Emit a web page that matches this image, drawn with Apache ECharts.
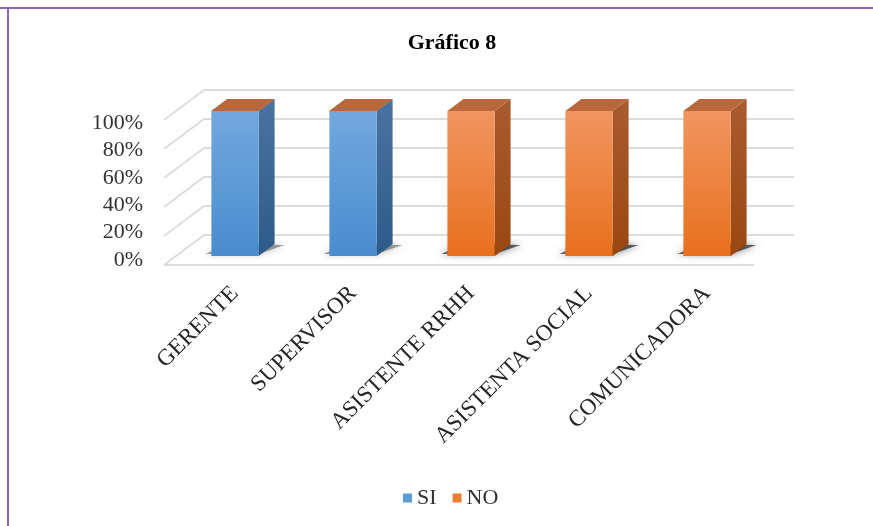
<!DOCTYPE html>
<html lang="es">
<head>
<meta charset="UTF-8">
<title>Gráfico 8</title>
<script src="https://cdn.jsdelivr.net/npm/echarts@6/dist/echarts.min.js"></script>
<style>
body{margin:0;background:#fff}
#main{width:873px;height:526px}
</style>
</head>
<body>
<div id="main"></div>
<script type="text/javascript">
var categories = ['GERENTE', 'SUPERVISOR', 'ASISTENTE RRHH', 'ASISTENTA SOCIAL', 'COMUNICADORA'];
var siValues = [100, 100, 0, 0, 0];
var noValues = [0, 0, 100, 100, 100];
var yTicks = [0, 20, 40, 60, 80, 100];
var yTickLabels = ['0%', '20%', '40%', '60%', '80%', '100%'];

// fake 3d: depth vector of the whole plot box, bars sit at 0.3 of it
var DX = 40, DY = -30;
var FRONT = -0.3, BACK = 0.7, BAR_DEPTH = 0.4;

var faces = {
    SI: {front: ['#71a8de', '#4a8ccf'], side: ['#4a74a0', '#2d5a89'], top: '#c45a1c'},
    NO: {front: ['#f19560', '#e8701d'], side: ['#a95b30', '#9a4811'], top: '#b9683e'}
};

function grad(c) {
    return new echarts.graphic.LinearGradient(0, 0, 0, 1, [
        {offset: 0, color: c[0]},
        {offset: 1, color: c[1]}
    ]);
}

function barItem(name) {
    var f = faces[name];
    return function (params, api) {
        var i = api.value(0), v = api.value(1), b = api.value(2);
        var p0 = api.coord([i, b]);
        var p1 = api.coord([i, b + v]);
        var w = api.size([1, 0])[0] * 0.4;
        var l = p0[0] - w / 2, r = p0[0] + w / 2;
        var yb = p0[1], yt = p1[1];
        var dx = DX * BAR_DEPTH, dy = DY * BAR_DEPTH;
        var kids = [];
        if (b === 0) {
            // soft contact shadow on the floor
            kids.push({
                type: 'polygon',
                shape: {points: [[l - 6, yb - 2], [r, yb - 2], [r + dx + 10, yb + dy + 1], [l + dx, yb + dy]]},
                style: {fill: 'rgba(0,0,0,0.35)', shadowBlur: 7, shadowColor: 'rgba(0,0,0,0.8)'}
            });
        }
        kids.push({
            type: 'polygon',
            shape: {points: [[r, yt], [r + dx, yt + dy], [r + dx, yb + dy], [r, yb]]},
            style: {fill: grad(f.side)}
        });
        kids.push({
            type: 'rect',
            shape: {x: l, y: yt, width: w, height: yb - yt},
            style: {fill: grad(f.front)}
        });
        kids.push({
            type: 'polygon',
            shape: {points: [[l, yt], [r, yt], [r + dx, yt + dy], [l + dx, yt + dy]]},
            style: {fill: f.top}
        });
        return {type: 'group', children: kids};
    };
}

function wallItem(params, api) {
    var cs = params.coordSys;
    var t = api.value(1);
    var y = api.coord([0, t])[1];
    var fx = cs.x + DX * FRONT, fy = y + DY * FRONT;
    var bx = cs.x + DX * BACK, by = y + DY * BACK;
    var st = {stroke: '#dcdcdc', lineWidth: 2};
    var kids = [
        {type: 'line', shape: {x1: fx, y1: fy, x2: bx, y2: by}, style: st},
        {type: 'line', shape: {x1: bx, y1: by, x2: bx + cs.width, y2: by}, style: st}
    ];
    if (t === 0) {
        kids.push({type: 'line', shape: {x1: fx, y1: fy, x2: fx + cs.width, y2: fy}, style: st});
    }
    return {type: 'group', children: kids};
}

var siData = [], noData = [];
for (var i = 0; i < categories.length; i++) {
    siData.push([i, siValues[i], 0]);
    noData.push([i, noValues[i], siValues[i]]);
}
var wallData = yTicks.map(function (t) { return [0, t]; });

var myChart = echarts.init(document.getElementById('main'));
myChart.setOption({
    backgroundColor: '#fff',
    animation: false,
    title: {
        text: 'Gráfico 8',
        left: 447,
        textAlign: 'center',
        top: 27,
        textStyle: {fontFamily: 'Liberation Serif', fontWeight: 'bold', fontSize: 22, color: '#000'}
    },
    legend: {
        left: 398,
        top: 482,
        icon: 'rect',
        itemWidth: 9,
        itemHeight: 9,
        itemGap: 16,
        data: ['SI', 'NO'],
        textStyle: {fontFamily: 'Liberation Serif', fontSize: 22, color: '#333'}
    },
    graphic: [
        {type: 'line', shape: {x1: 0, y1: 8, x2: 873, y2: 8}, style: {stroke: '#9065c4', lineWidth: 2}},
        {type: 'line', shape: {x1: 8, y1: 8, x2: 8, y2: 526}, style: {stroke: '#9065c4', lineWidth: 2}}
    ],
    grid: [
        {left: 176, width: 590, top: 111, height: 145},
        {left: 163, width: 10, top: 123, height: 137}
    ],
    xAxis: [
        {
            type: 'category',
            data: categories,
            axisLine: {show: false},
            axisTick: {show: false},
            axisLabel: {
                interval: 0,
                rotate: 45,
                margin: 34,
                fontFamily: 'Liberation Serif',
                fontSize: 23,
                color: '#262626'
            }
        },
        {type: 'value', gridIndex: 1, show: false}
    ],
    yAxis: [
        {type: 'value', min: 0, max: 100, show: false},
        {
            type: 'value',
            gridIndex: 1,
            min: 0,
            max: 100,
            interval: 20,
            axisLine: {show: false},
            axisTick: {show: false},
            splitLine: {show: false},
            axisLabel: {
                margin: 20,
                fontFamily: 'Liberation Serif',
                fontSize: 22,
                color: '#333',
                formatter: function (v) { return yTickLabels[yTicks.indexOf(v)]; }
            }
        }
    ],
    series: [
        {
            name: 'walls',
            type: 'custom',
            renderItem: wallItem,
            data: wallData,
            encode: {x: 0, y: 1},
            silent: true,
            z: 1
        },
        {
            name: 'SI',
            type: 'custom',
            renderItem: barItem('SI'),
            data: siData,
            encode: {x: 0, y: 1},
            itemStyle: {color: '#5b9bd5'},
            z: 2
        },
        {
            name: 'NO',
            type: 'custom',
            renderItem: barItem('NO'),
            data: noData,
            encode: {x: 0, y: 1},
            itemStyle: {color: '#ed7d31'},
            z: 3
        }
    ]
});
</script>
</body>
</html>
